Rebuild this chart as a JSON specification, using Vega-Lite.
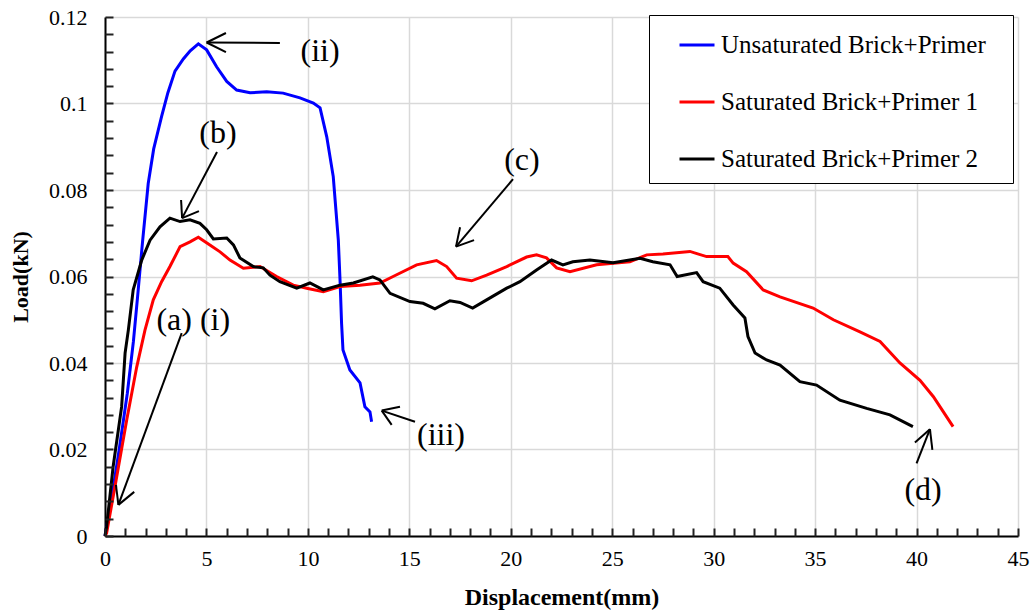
{
  "$schema": "https://vega.github.io/schema/vega-lite/v6.json",
  "width": 913,
  "height": 519,
  "autosize": {"type": "none"},
  "padding": {"left": 105, "top": 17, "right": 17, "bottom": 79},
  "background": "white",
  "config": {"view": {"stroke": null}, "font": "Liberation Serif"},
  "resolve": {"axis": {"x": "independent", "y": "independent"}},
  "datasets": {
    "curves": [
      {"series": "Unsaturated Brick+Primer", "x": 0, "y": 0},
      {"series": "Unsaturated Brick+Primer", "x": 0.3, "y": 0.008},
      {"series": "Unsaturated Brick+Primer", "x": 0.7, "y": 0.02},
      {"series": "Unsaturated Brick+Primer", "x": 1.1, "y": 0.033},
      {"series": "Unsaturated Brick+Primer", "x": 1.4, "y": 0.045},
      {"series": "Unsaturated Brick+Primer", "x": 1.6, "y": 0.055},
      {"series": "Unsaturated Brick+Primer", "x": 1.85, "y": 0.068},
      {"series": "Unsaturated Brick+Primer", "x": 2.13, "y": 0.0815},
      {"series": "Unsaturated Brick+Primer", "x": 2.4, "y": 0.0895},
      {"series": "Unsaturated Brick+Primer", "x": 2.79, "y": 0.097},
      {"series": "Unsaturated Brick+Primer", "x": 3.1, "y": 0.1025},
      {"series": "Unsaturated Brick+Primer", "x": 3.45, "y": 0.1075},
      {"series": "Unsaturated Brick+Primer", "x": 3.86, "y": 0.1103},
      {"series": "Unsaturated Brick+Primer", "x": 4.2, "y": 0.1122},
      {"series": "Unsaturated Brick+Primer", "x": 4.6, "y": 0.1138},
      {"series": "Unsaturated Brick+Primer", "x": 5.01, "y": 0.1124},
      {"series": "Unsaturated Brick+Primer", "x": 5.5, "y": 0.1085},
      {"series": "Unsaturated Brick+Primer", "x": 6.0, "y": 0.1051},
      {"series": "Unsaturated Brick+Primer", "x": 6.49, "y": 0.1031},
      {"series": "Unsaturated Brick+Primer", "x": 7.15, "y": 0.1025},
      {"series": "Unsaturated Brick+Primer", "x": 7.97, "y": 0.1027},
      {"series": "Unsaturated Brick+Primer", "x": 8.78, "y": 0.1024},
      {"series": "Unsaturated Brick+Primer", "x": 9.61, "y": 0.1013},
      {"series": "Unsaturated Brick+Primer", "x": 10.27, "y": 0.1001},
      {"series": "Unsaturated Brick+Primer", "x": 10.6, "y": 0.099},
      {"series": "Unsaturated Brick+Primer", "x": 10.93, "y": 0.0923},
      {"series": "Unsaturated Brick+Primer", "x": 11.25, "y": 0.0831},
      {"series": "Unsaturated Brick+Primer", "x": 11.5, "y": 0.0684},
      {"series": "Unsaturated Brick+Primer", "x": 11.59, "y": 0.0585},
      {"series": "Unsaturated Brick+Primer", "x": 11.66, "y": 0.0492},
      {"series": "Unsaturated Brick+Primer", "x": 11.73, "y": 0.043},
      {"series": "Unsaturated Brick+Primer", "x": 12.07, "y": 0.0384},
      {"series": "Unsaturated Brick+Primer", "x": 12.57, "y": 0.0354},
      {"series": "Unsaturated Brick+Primer", "x": 12.81, "y": 0.0299},
      {"series": "Unsaturated Brick+Primer", "x": 13.06, "y": 0.0287},
      {"series": "Unsaturated Brick+Primer", "x": 13.14, "y": 0.0264},
      {"series": "Saturated Brick+Primer 1", "x": 0, "y": 0},
      {"series": "Saturated Brick+Primer 1", "x": 0.08, "y": 0.0007},
      {"series": "Saturated Brick+Primer 1", "x": 0.49, "y": 0.0114},
      {"series": "Saturated Brick+Primer 1", "x": 1.07, "y": 0.0268},
      {"series": "Saturated Brick+Primer 1", "x": 1.56, "y": 0.039},
      {"series": "Saturated Brick+Primer 1", "x": 1.97, "y": 0.0476},
      {"series": "Saturated Brick+Primer 1", "x": 2.38, "y": 0.0546},
      {"series": "Saturated Brick+Primer 1", "x": 2.79, "y": 0.0588},
      {"series": "Saturated Brick+Primer 1", "x": 3.2, "y": 0.0623},
      {"series": "Saturated Brick+Primer 1", "x": 3.7, "y": 0.0669},
      {"series": "Saturated Brick+Primer 1", "x": 4.19, "y": 0.068},
      {"series": "Saturated Brick+Primer 1", "x": 4.6, "y": 0.0691},
      {"series": "Saturated Brick+Primer 1", "x": 5.17, "y": 0.0673},
      {"series": "Saturated Brick+Primer 1", "x": 5.67, "y": 0.0657},
      {"series": "Saturated Brick+Primer 1", "x": 6.16, "y": 0.0638},
      {"series": "Saturated Brick+Primer 1", "x": 6.82, "y": 0.0619},
      {"series": "Saturated Brick+Primer 1", "x": 7.64, "y": 0.0623},
      {"series": "Saturated Brick+Primer 1", "x": 8.46, "y": 0.06},
      {"series": "Saturated Brick+Primer 1", "x": 9.28, "y": 0.058},
      {"series": "Saturated Brick+Primer 1", "x": 9.94, "y": 0.0573},
      {"series": "Saturated Brick+Primer 1", "x": 10.76, "y": 0.0565},
      {"series": "Saturated Brick+Primer 1", "x": 11.58, "y": 0.0577},
      {"series": "Saturated Brick+Primer 1", "x": 12.57, "y": 0.058},
      {"series": "Saturated Brick+Primer 1", "x": 13.55, "y": 0.0585},
      {"series": "Saturated Brick+Primer 1", "x": 14.2, "y": 0.06},
      {"series": "Saturated Brick+Primer 1", "x": 15.36, "y": 0.0627},
      {"series": "Saturated Brick+Primer 1", "x": 16.34, "y": 0.0637},
      {"series": "Saturated Brick+Primer 1", "x": 16.84, "y": 0.0623},
      {"series": "Saturated Brick+Primer 1", "x": 17.33, "y": 0.0596},
      {"series": "Saturated Brick+Primer 1", "x": 18.07, "y": 0.059},
      {"series": "Saturated Brick+Primer 1", "x": 18.81, "y": 0.0603},
      {"series": "Saturated Brick+Primer 1", "x": 19.8, "y": 0.0623},
      {"series": "Saturated Brick+Primer 1", "x": 20.78, "y": 0.0645},
      {"series": "Saturated Brick+Primer 1", "x": 21.27, "y": 0.065},
      {"series": "Saturated Brick+Primer 1", "x": 21.76, "y": 0.0643},
      {"series": "Saturated Brick+Primer 1", "x": 22.26, "y": 0.062},
      {"series": "Saturated Brick+Primer 1", "x": 22.92, "y": 0.0611},
      {"series": "Saturated Brick+Primer 1", "x": 24.23, "y": 0.0627},
      {"series": "Saturated Brick+Primer 1", "x": 25.87, "y": 0.0634},
      {"series": "Saturated Brick+Primer 1", "x": 26.7, "y": 0.065},
      {"series": "Saturated Brick+Primer 1", "x": 27.5, "y": 0.0652},
      {"series": "Saturated Brick+Primer 1", "x": 28.83, "y": 0.0658},
      {"series": "Saturated Brick+Primer 1", "x": 29.65, "y": 0.0646},
      {"series": "Saturated Brick+Primer 1", "x": 30.7, "y": 0.0646},
      {"series": "Saturated Brick+Primer 1", "x": 30.96, "y": 0.0631},
      {"series": "Saturated Brick+Primer 1", "x": 31.62, "y": 0.0611},
      {"series": "Saturated Brick+Primer 1", "x": 32.44, "y": 0.0569},
      {"series": "Saturated Brick+Primer 1", "x": 33.27, "y": 0.0553},
      {"series": "Saturated Brick+Primer 1", "x": 34.9, "y": 0.0527},
      {"series": "Saturated Brick+Primer 1", "x": 35.9, "y": 0.05},
      {"series": "Saturated Brick+Primer 1", "x": 37.21, "y": 0.0472},
      {"series": "Saturated Brick+Primer 1", "x": 38.2, "y": 0.045},
      {"series": "Saturated Brick+Primer 1", "x": 39.18, "y": 0.04},
      {"series": "Saturated Brick+Primer 1", "x": 40.17, "y": 0.036},
      {"series": "Saturated Brick+Primer 1", "x": 40.83, "y": 0.0322},
      {"series": "Saturated Brick+Primer 1", "x": 41.8, "y": 0.0253},
      {"series": "Saturated Brick+Primer 2", "x": 0, "y": 0},
      {"series": "Saturated Brick+Primer 2", "x": 0.08, "y": 0.0022},
      {"series": "Saturated Brick+Primer 2", "x": 0.4, "y": 0.016},
      {"series": "Saturated Brick+Primer 2", "x": 0.82, "y": 0.0299},
      {"series": "Saturated Brick+Primer 2", "x": 0.99, "y": 0.0423},
      {"series": "Saturated Brick+Primer 2", "x": 1.15, "y": 0.0476},
      {"series": "Saturated Brick+Primer 2", "x": 1.39, "y": 0.0569},
      {"series": "Saturated Brick+Primer 2", "x": 1.81, "y": 0.0638},
      {"series": "Saturated Brick+Primer 2", "x": 2.22, "y": 0.0684},
      {"series": "Saturated Brick+Primer 2", "x": 2.71, "y": 0.0715},
      {"series": "Saturated Brick+Primer 2", "x": 3.2, "y": 0.0735},
      {"series": "Saturated Brick+Primer 2", "x": 3.7, "y": 0.0727},
      {"series": "Saturated Brick+Primer 2", "x": 4.19, "y": 0.0731},
      {"series": "Saturated Brick+Primer 2", "x": 4.68, "y": 0.0723},
      {"series": "Saturated Brick+Primer 2", "x": 5.01, "y": 0.0708},
      {"series": "Saturated Brick+Primer 2", "x": 5.34, "y": 0.0687},
      {"series": "Saturated Brick+Primer 2", "x": 6.0, "y": 0.0689},
      {"series": "Saturated Brick+Primer 2", "x": 6.33, "y": 0.0673},
      {"series": "Saturated Brick+Primer 2", "x": 6.65, "y": 0.0643},
      {"series": "Saturated Brick+Primer 2", "x": 7.31, "y": 0.0623},
      {"series": "Saturated Brick+Primer 2", "x": 7.8, "y": 0.062},
      {"series": "Saturated Brick+Primer 2", "x": 8.13, "y": 0.0603},
      {"series": "Saturated Brick+Primer 2", "x": 8.62, "y": 0.0588},
      {"series": "Saturated Brick+Primer 2", "x": 9.45, "y": 0.0573},
      {"series": "Saturated Brick+Primer 2", "x": 10.1, "y": 0.0585},
      {"series": "Saturated Brick+Primer 2", "x": 10.76, "y": 0.0569},
      {"series": "Saturated Brick+Primer 2", "x": 11.58, "y": 0.058},
      {"series": "Saturated Brick+Primer 2", "x": 12.24, "y": 0.0585},
      {"series": "Saturated Brick+Primer 2", "x": 13.2, "y": 0.0599},
      {"series": "Saturated Brick+Primer 2", "x": 13.55, "y": 0.0592},
      {"series": "Saturated Brick+Primer 2", "x": 14.05, "y": 0.0561},
      {"series": "Saturated Brick+Primer 2", "x": 15.03, "y": 0.0542},
      {"series": "Saturated Brick+Primer 2", "x": 15.68, "y": 0.0538},
      {"series": "Saturated Brick+Primer 2", "x": 16.26, "y": 0.0525},
      {"series": "Saturated Brick+Primer 2", "x": 17.0, "y": 0.0544},
      {"series": "Saturated Brick+Primer 2", "x": 17.5, "y": 0.054},
      {"series": "Saturated Brick+Primer 2", "x": 18.12, "y": 0.0527},
      {"series": "Saturated Brick+Primer 2", "x": 18.81, "y": 0.0546},
      {"series": "Saturated Brick+Primer 2", "x": 19.8, "y": 0.0573},
      {"series": "Saturated Brick+Primer 2", "x": 20.45, "y": 0.0588},
      {"series": "Saturated Brick+Primer 2", "x": 21.27, "y": 0.0615},
      {"series": "Saturated Brick+Primer 2", "x": 22.01, "y": 0.0638},
      {"series": "Saturated Brick+Primer 2", "x": 22.57, "y": 0.0627},
      {"series": "Saturated Brick+Primer 2", "x": 23.06, "y": 0.0634},
      {"series": "Saturated Brick+Primer 2", "x": 23.9, "y": 0.0638},
      {"series": "Saturated Brick+Primer 2", "x": 25.04, "y": 0.0632},
      {"series": "Saturated Brick+Primer 2", "x": 26.37, "y": 0.0642},
      {"series": "Saturated Brick+Primer 2", "x": 27.0, "y": 0.0634},
      {"series": "Saturated Brick+Primer 2", "x": 27.85, "y": 0.0627},
      {"series": "Saturated Brick+Primer 2", "x": 28.2, "y": 0.06},
      {"series": "Saturated Brick+Primer 2", "x": 29.16, "y": 0.0609},
      {"series": "Saturated Brick+Primer 2", "x": 29.48, "y": 0.0588},
      {"series": "Saturated Brick+Primer 2", "x": 30.3, "y": 0.0573},
      {"series": "Saturated Brick+Primer 2", "x": 30.96, "y": 0.0534},
      {"series": "Saturated Brick+Primer 2", "x": 31.54, "y": 0.0504},
      {"series": "Saturated Brick+Primer 2", "x": 31.69, "y": 0.0461},
      {"series": "Saturated Brick+Primer 2", "x": 32.04, "y": 0.0423},
      {"series": "Saturated Brick+Primer 2", "x": 32.61, "y": 0.0407},
      {"series": "Saturated Brick+Primer 2", "x": 33.27, "y": 0.0395},
      {"series": "Saturated Brick+Primer 2", "x": 34.25, "y": 0.0357},
      {"series": "Saturated Brick+Primer 2", "x": 35.07, "y": 0.0349},
      {"series": "Saturated Brick+Primer 2", "x": 36.22, "y": 0.0314},
      {"series": "Saturated Brick+Primer 2", "x": 37.54, "y": 0.0295},
      {"series": "Saturated Brick+Primer 2", "x": 38.69, "y": 0.028},
      {"series": "Saturated Brick+Primer 2", "x": 39.82, "y": 0.0253}
    ],
    "arrows": [
      {"x": 8.62, "y": 0.114, "x2": 5.01, "y2": 0.1141},
      {"x": 5.01, "y": 0.1141, "x2": 5.96, "y2": 0.1163},
      {"x": 5.01, "y": 0.1141, "x2": 5.96, "y2": 0.1119},
      {"x": 5.52, "y": 0.0888, "x2": 3.8, "y2": 0.0735},
      {"x": 3.8, "y": 0.0735, "x2": 3.75, "y2": 0.0777},
      {"x": 3.8, "y": 0.0735, "x2": 4.63, "y2": 0.0751},
      {"x": 20.11, "y": 0.0825, "x2": 17.3, "y2": 0.0669},
      {"x": 17.3, "y": 0.0669, "x2": 17.5, "y2": 0.0714},
      {"x": 17.3, "y": 0.0669, "x2": 18.19, "y2": 0.0684},
      {"x": 3.78, "y": 0.0469, "x2": 0.66, "y2": 0.0072},
      {"x": 0.66, "y": 0.0072, "x2": 0.54, "y2": 0.0118},
      {"x": 0.66, "y": 0.0072, "x2": 1.44, "y2": 0.0102},
      {"x": 15.28, "y": 0.0264, "x2": 13.64, "y2": 0.029},
      {"x": 13.64, "y": 0.029, "x2": 14.54, "y2": 0.0299},
      {"x": 13.64, "y": 0.029, "x2": 14.13, "y2": 0.0257},
      {"x": 40.0, "y": 0.0168, "x2": 40.66, "y2": 0.0247},
      {"x": 40.66, "y": 0.0247, "x2": 39.92, "y2": 0.0216},
      {"x": 40.66, "y": 0.0247, "x2": 40.78, "y2": 0.0199}
    ],
    "labels": [
      {"x": 10.6, "y": 0.1121, "label": "(ii)"},
      {"x": 5.57, "y": 0.0932, "label": "(b)"},
      {"x": 20.55, "y": 0.0869, "label": "(c)"},
      {"x": 4.35, "y": 0.0499, "label": "(a) (i)"},
      {"x": 16.56, "y": 0.0234, "label": "(iii)"},
      {"x": 40.32, "y": 0.0106, "label": "(d)"}
    ]
  },
  "layer": [
    {
      "data": {"name": "curves"},
      "mark": {"type": "line", "strokeWidth": 3, "interpolate": "linear"},
      "encoding": {
        "x": {
          "field": "x", "type": "quantitative",
          "scale": {"domain": [0, 45], "nice": false, "zero": false},
          "axis": {
            "title": "Displacement(mm)",
            "values": [0,5,10,15,20,25,30,35,40,45],
            "labelOverlap": false,
            "labelFlush": false,
            "labelFont": "Liberation Serif",
            "labelFontSize": 22,
            "labelColor": "black",
            "labelPadding": 12,
            "ticks": false,
            "domainColor": "black",
            "domainWidth": 2,
            "grid": true,
            "gridColor": "#d9d9d9",
            "gridWidth": 1.5,
            "titleFont": "Liberation Serif",
            "titleFontSize": 24,
            "titleFontWeight": "bold",
            "titleColor": "black",
            "titlePadding": 16
          }
        },
        "y": {
          "field": "y", "type": "quantitative",
          "scale": {"domain": [0, 0.12], "nice": false},
          "axis": {
            "title": "Load(kN)",
            "values": [0,0.02,0.04,0.06,0.08,0.1,0.12],
            "labelExpr": "format(datum.value, '~g')",
            "labelOverlap": false,
            "labelFont": "Liberation Serif",
            "labelFontSize": 22,
            "labelColor": "black",
            "labelPadding": 18,
            "ticks": false,
            "domainColor": "black",
            "domainWidth": 2,
            "grid": true,
            "gridColor": "#d9d9d9",
            "gridWidth": 1.5,
            "titleFont": "Liberation Serif",
            "titleFontSize": 22,
            "titleFontWeight": "bold",
            "titleColor": "black",
            "titlePadding": 16
          }
        },
        "color": {
          "field": "series", "type": "nominal",
          "scale": {
            "domain": ["Unsaturated Brick+Primer", "Saturated Brick+Primer 1", "Saturated Brick+Primer 2"],
            "range": ["#0000ff", "#ff0000", "#000000"]
          },
          "legend": {
            "title": "\u00a0",
            "titleOrient": "right",
            "titlePadding": 16,
            "titleFontSize": 24,
            "orient": "none",
            "legendX": 544,
            "legendY": -2,
            "padding": 11,
            "strokeColor": "black",
            "fillColor": "white",
            "symbolType": "stroke",
            "symbolSize": 1225,
            "symbolStrokeWidth": 3,
            "symbolOffset": 18,
            "labelFont": "Liberation Serif",
            "labelFontSize": 25,
            "labelColor": "black",
            "labelOffset": 5,
            "labelLimit": 400,
            "rowPadding": 25
          }
        }
      }
    },
    {
      "data": {"name": "arrows"},
      "mark": {"type": "rule", "color": "black", "strokeWidth": 2},
      "encoding": {
        "x": {
          "field": "x", "type": "quantitative",
          "scale": {"domain": [0, 45], "nice": false, "zero": false},
          "axis": {
            "orient": "top", "offset": -519, "title": null,
            "values": [0,1,2,3,4,5,6,7,8,9,10,11,12,13,14,15,16,17,18,19,20,21,22,23,24,25,26,27,28,29,30,31,32,33,34,35,36,37,38,39,40,41,42,43,44,45],
            "labels": false, "domain": false, "grid": false, "ticks": true,
            "tickSize": 8, "tickColor": "#222222", "tickWidth": 2, "zindex": 1
          }
        },
        "y": {
          "field": "y", "type": "quantitative",
          "scale": {"domain": [0, 0.12], "nice": false},
          "axis": {
            "orient": "right", "offset": -913, "title": null,
            "values": [0,0.004,0.008,0.012,0.016,0.02,0.024,0.028,0.032,0.036,0.04,0.044,0.048,0.052,0.056,0.06,0.064,0.068,0.072,0.076,0.08,0.084,0.088,0.092,0.096,0.1,0.104,0.108,0.112,0.116,0.12],
            "labels": false, "domain": false, "grid": false, "ticks": true,
            "tickSize": 8, "tickColor": "#222222", "tickWidth": 2, "zindex": 1
          }
        },
        "x2": {"field": "x2"},
        "y2": {"field": "y2"}
      }
    },
    {
      "data": {"name": "labels"},
      "mark": {"type": "text", "font": "Liberation Serif", "fontSize": 32, "color": "black", "align": "center", "baseline": "middle"},
      "encoding": {
        "x": {"field": "x", "type": "quantitative", "scale": {"domain": [0, 45], "nice": false, "zero": false}, "axis": null},
        "y": {"field": "y", "type": "quantitative", "scale": {"domain": [0, 0.12], "nice": false}, "axis": null},
        "text": {"field": "label"}
      }
    }
  ]
}
